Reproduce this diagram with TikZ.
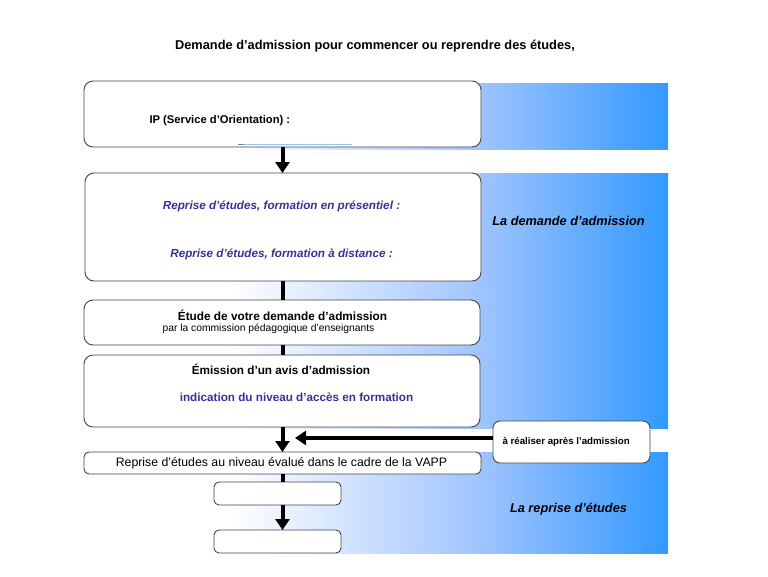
\documentclass[tikz,border=0pt]{standalone}
\usepackage{fontspec}
\setmainfont{Liberation Sans}
\usetikzlibrary{arrows.meta}
\definecolor{bandA}{RGB}{160,196,255}
\definecolor{bandB}{RGB}{51,153,255}
\definecolor{txtblue}{RGB}{51,51,153}
\definecolor{boxline}{RGB}{70,70,70}
\pgfdeclarehorizontalshading{bandshade}{100bp}{color(0bp)=(white); color(25bp)=(white); color(53.5bp)=(bandA); color(75bp)=(bandB); color(100bp)=(bandB)}
\tikzset{
  flowbox/.style={draw=boxline, line width=0.9pt, fill=white, rounded corners=9pt},
  flowarrow/.style={line width=4pt, -{Triangle[width=14pt,length=11pt]}},
  flowline/.style={line width=4pt},
  band/.style={shading=bandshade},
  fsb/.style={font=\fontsize{#1}{#1}\selectfont\bfseries},
  fsr/.style={font=\fontsize{#1}{#1}\selectfont},
  fsbi/.style={font=\fontsize{#1}{#1}\selectfont\bfseries\itshape}
}
\begin{document}
\begin{tikzpicture}[x=1pt,y=-1pt]
\useasboundingbox (0,0) rectangle (768,576);
% bands
\shade[band] (230,83) rectangle (668,149);
\shade[band] (230,173) rectangle (668,428);
\shade[band] (230,452) rectangle (668,553);
% title
\node[fsb=12.8] (title) at (375,46) {Demande d’admission pour commencer ou reprendre des études,};
% boxes
\path[flowbox] (84,81) rectangle (481,147);
\coordinate (b1n) at (282.5,81); \coordinate (b1s) at (282.5,147);
\path[flowbox] (85,173) rectangle (481,281);
\coordinate (b2n) at (282.5,173); \coordinate (b2s) at (282.5,281);
\path[flowbox] (84,300) rectangle (480,345);
\coordinate (b3n) at (282.5,300); \coordinate (b3s) at (282.5,345);
\path[flowbox] (84,355) rectangle (480,427);
\coordinate (b4n) at (282.5,355); \coordinate (b4s) at (282.5,427);
\path[flowbox, rounded corners=5pt] (84,452) rectangle (481,474);
\coordinate (b5n) at (282.5,452); \coordinate (b5s) at (282.5,474);
\path[flowbox, rounded corners=5pt] (214,482) rectangle (341,505);
\coordinate (b6n) at (282.5,482); \coordinate (b6s) at (282.5,505);
\path[flowbox, rounded corners=5pt] (214,530) rectangle (341,553);
\coordinate (b7n) at (282.5,530);
\path[flowbox, rounded corners=7pt] (493,421) rectangle (650,463);
\coordinate (b8w) at (493,438);
\coordinate (tipA) at (295,438);
% connectors
\draw[flowarrow] (b1s) -- (b2n);
\draw[flowline] (b2s) -- (b3n);
\draw[flowline] (b3s) -- (b4n);
\draw[flowarrow] (b4s) -- (b5n);
\draw[flowline] (b5s) -- (b6n);
\draw[flowarrow] (b6s) -- (b7n);
\draw[flowarrow] (b8w) -- (tipA);
% underline in box 1
\draw[gray, line width=1pt] (238,144) -- (244,144);
\draw[color={rgb,255:red,150;green,200;blue,230}, line width=1pt] (244,144) -- (352,144);
% texts
\node[fsb=11.2, anchor=west] (t1) at (146,121) {IP (Service d’Orientation) :};
\node[fsbi=11.7, text=txtblue] (t2) at (281.5,206) {Reprise d’études, formation en présentiel :};
\node[fsbi=11.7, text=txtblue] (t3) at (281.5,254) {Reprise d’études, formation à distance :};
\node[fsb=11.8] (t4) at (282.5,315) {Étude de votre demande d’admission};
\node[fsr=10.3] (t5) at (268.5,329) {par la commission pédagogique d’enseignants};
\node[fsb=11.75] (t6) at (281,369) {Émission d’un avis d’admission};
\node[fsb=11.7, text=txtblue] (t7) at (296.5,397) {indication du niveau d’accès en formation};
\node[fsr=12.3] (t8) at (281.5,463) {Reprise d’études au niveau évalué dans le cadre de la VAPP};
\node[fsb=9.7, anchor=west] (t9) at (499,442) {à réaliser après l’admission};
\node[fsbi=12.75] (t10) at (568.5,221) {La demande d’admission};
\node[fsbi=12.75] (t11) at (568.5,509) {La reprise d’études};
\end{tikzpicture}
\end{document}
